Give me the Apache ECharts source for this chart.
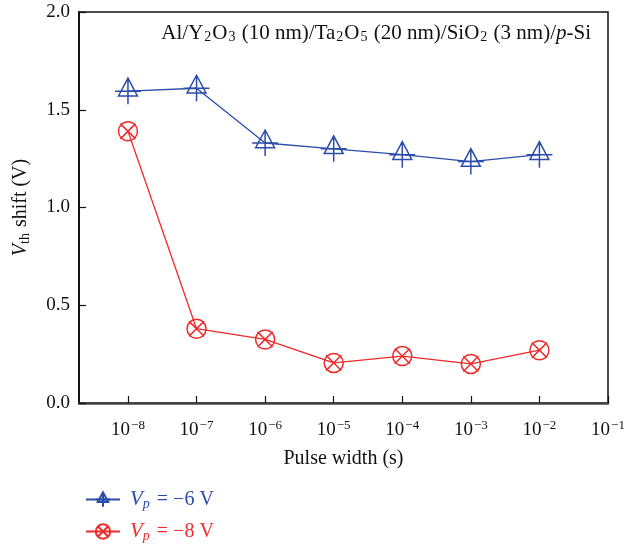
<!DOCTYPE html>
<html>
<head>
<meta charset="utf-8">
<script src="https://cdn.jsdelivr.net/npm/echarts@6/dist/echarts.min.js"></script>
<style>
    html, body { margin: 0; padding: 0; background: #fff; }
    #main { width: 642px; height: 546px; }
</style>
</head>
<body>
<div id="main"></div>
<script>
// pulse width exponents (10^x s)
var pulseExp = [-8, -7, -6, -5, -4, -3, -2];
var tickExp = [-8, -7, -6, -5, -4, -3, -2, -1];
var shift6V = [1.595, 1.61, 1.33, 1.30, 1.27, 1.235, 1.27];
var shift8V = [1.39, 0.38, 0.325, 0.205, 0.24, 0.20, 0.27];
var seriesNames = ['Vp6', 'Vp8'];

var blue = '#2b4ca8';
var red = '#f02a2a';
var serif = '"Liberation Serif", "DejaVu Serif", serif';

// 三角 + 十字
var triPath = 'path://M11 0 L3 15 L19 15 Z M0 11 L22 11 M11 0 L11 22';
// 圆 + 叉
var circPath = 'path://M0 10 A10 10 0 1 1 20 10 A10 10 0 1 1 0 10 Z M2 2 L18 18 M18 2 L2 18';

function pairs(xs, ys) {
    var out = [];
    for (var i = 0; i < xs.length; ++i) out.push([xs[i], ys[i]]);
    return out;
}

var myChart = echarts.init(document.getElementById('main'));

var option = {
    animation: false,
    textStyle: { fontFamily: serif },
    title: {
        text: 'Al/Y{sub|2}O{sub|3} (10 nm)/Ta{sub|2}O{sub|5} (20 nm)/SiO{sub|2} (3 nm)/{i|p}-Si',
        right: 46,
        top: 18,
        textStyle: {
            fontFamily: serif,
            fontSize: 21,
            fontWeight: 'normal',
            color: '#111',
            rich: {
                sub: { fontSize: 14, fontFamily: serif, color: '#111', padding: [7, 1, 0, 1] },
                i: { fontSize: 21, fontFamily: serif, fontStyle: 'italic', color: '#111' }
            }
        }
    },
    grid: {
        left: 79,
        right: 34,
        top: 12,
        bottom: 143,
        show: true,
        borderColor: '#111',
        borderWidth: 1.5,
        backgroundColor: 'transparent'
    },
    legend: {
        orient: 'vertical',
        left: 80,
        top: 484,
        height: 120,
        itemWidth: 34,
        itemHeight: 18,
        itemGap: 10,
        data: [
            { name: 'Vp6', textStyle: { color: blue } },
            { name: 'Vp8', textStyle: { color: red } }
        ],
        formatter: function (name) {
            return name === 'Vp6' ? '{i|V}{sub|p} = −6 V' : '{i|V}{sub|p} = −8 V';
        },
        textStyle: {
            fontFamily: serif,
            fontSize: 20,
            padding: [0, 0, 0, 5],
            rich: {
                i: { fontSize: 21, fontStyle: 'italic', fontFamily: serif },
                sub: { fontSize: 14, fontStyle: 'italic', fontFamily: serif, padding: [9, 2, 0, 0] }
            }
        }
    },
    xAxis: {
        type: 'value',
        min: -8.714,
        max: -1,
        name: 'Pulse width (s)',
        nameLocation: 'middle',
        nameGap: 46,
        nameTextStyle: { fontFamily: serif, fontSize: 20, color: '#111' },
        splitLine: { show: false },
        axisLine: { show: true, lineStyle: { color: '#444', width: 2.5 } },
        axisTick: {
            show: true,
            inside: true,
            length: 7,
            customValues: tickExp,
            lineStyle: { color: '#111', width: 1.2 }
        },
        axisLabel: {
            customValues: tickExp,
            margin: 16,
            color: '#111',
            fontFamily: serif,
            fontSize: 19,
            formatter: function (v) {
                return '10{sup|−' + Math.abs(Math.round(v)) + '}';
            },
            rich: {
                sup: { fontSize: 13, fontFamily: serif, color: '#111', padding: [0, 0, 10, 1] }
            }
        }
    },
    yAxis: {
        type: 'value',
        min: 0,
        max: 2,
        interval: 0.5,
        name: '{i|V}{sub|th} shift (V)',
        nameLocation: 'middle',
        nameRotate: 90,
        nameGap: 47,
        nameTextStyle: {
            fontFamily: serif,
            fontSize: 20,
            color: '#111',
            rich: {
                i: { fontSize: 20, fontStyle: 'italic', fontFamily: serif, color: '#111' },
                sub: { fontSize: 14, fontFamily: serif, color: '#111', padding: [8, 1, 0, 0] }
            }
        },
        splitLine: { show: false },
        axisLine: { show: true, lineStyle: { color: '#111', width: 2 } },
        axisTick: { show: true, inside: true, length: 7, lineStyle: { color: '#111', width: 1.2 } },
        axisLabel: {
            margin: 9,
            color: '#111',
            fontFamily: serif,
            fontSize: 19,
            formatter: function (v) { return v.toFixed(1); }
        }
    },
    series: [{
        name: seriesNames[0],
        type: 'line',
        data: pairs(pulseExp, shift6V),
        symbol: triPath,
        symbolSize: 26,
        lineStyle: { color: blue, width: 1.3 },
        itemStyle: { color: 'rgba(0,0,0,0)', borderColor: blue, borderWidth: 1.5 }
    }, {
        name: seriesNames[1],
        type: 'line',
        data: pairs(pulseExp, shift8V),
        symbol: circPath,
        symbolSize: 19,
        lineStyle: { color: red, width: 1.3 },
        itemStyle: { color: 'rgba(0,0,0,0)', borderColor: red, borderWidth: 1.5 }
    }]
};

myChart.setOption(option);
</script>
</body>
</html>
